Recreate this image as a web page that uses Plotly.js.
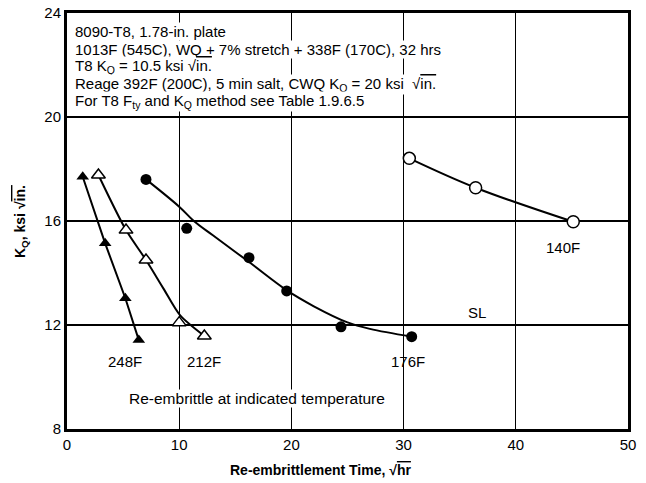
<!DOCTYPE html>
<html>
<head>
<meta charset="utf-8">
<script src="https://cdn.plot.ly/plotly-3.0.1.min.js"></script>
<style>html,body{margin:0;padding:0;background:#fff;}</style>
</head>
<body>
<div id="chart" style="width:646px;height:483px;"></div>
<script>
// Re-embrittlement data (x = sqrt(hr), y = KQ ksi sqrt(in.))
const x248 = [1.4, 3.4, 5.2, 6.4];
const y248 = [17.7, 15.14, 13.03, 11.42];

const x212 = [2.8, 5.26, 7.04, 10.0, 12.24];
const y212 = [17.77, 15.65, 14.5, 12.09, 11.58];
// fitted curve for 212F as drawn in the reference
const x212fit = [2.8, 5.26, 7.04, 8.6, 10.07, 12.24];
const y212fit = [17.77, 15.65, 14.5, 13.4, 12.38, 11.58];

const x176 = [7.04, 10.67, 16.22, 19.58, 24.42, 30.72];
const y176 = [17.6, 15.72, 14.59, 13.31, 11.93, 11.55];
// fitted curve for 176F as drawn in the reference
const x176fit = [7.04, 10.0, 11.3, 13.0, 16.2, 19.6, 22.0, 25.0, 27.0, 30.72];
const y176fit = [17.6, 16.55, 16.0, 15.45, 14.43, 13.33, 12.72, 12.1, 11.85, 11.55];

const x140 = [30.51, 36.42, 45.12];
const y140 = [18.41, 17.28, 15.97];

const xTicks = [0, 10, 20, 30, 40, 50];
const yTicks = [8, 12, 16, 20, 24];

const infoLines = [
  "8090-T8, 1.78-in. plate",
  "1013F (545C), WQ + 7% stretch + 338F (170C), 32 hrs",
  "T8 K<sub>Q</sub> = 10.5 ksi √<span style='text-decoration:overline'>in.</span>",
  "Reage 392F (200C), 5 min salt, CWQ K<sub>Q</sub> = 20 ksi  √<span style='text-decoration:overline'>in.</span>",
  "For T8 F<sub>ty</sub> and K<sub>Q</sub> method see Table 1.9.6.5"
];
const infoY = [23.28, 22.6, 21.93, 21.25, 20.58];

const curveLabels = ["248F", "212F", "176F", "140F", "SL"];
const labelX = [5.17, 12.2, 30.4, 44.2, 36.5];
const labelY = [10.59, 10.59, 10.59, 15.0, 12.5];

const FONT = "Liberation Sans, Arial, sans-serif";
const line = {color: "#000", width: 2};

const traces = [
  {x: x248, y: y248, mode: "lines+markers", line: line,
   marker: {symbol: "triangle-up", size: 11, color: "#000"}},
  {x: x212fit, y: y212fit, mode: "lines", line: Object.assign({shape: "spline", smoothing: 0.8}, line)},
  {x: x212, y: y212, mode: "markers",
   marker: {symbol: "triangle-up", size: 12, color: "#fff", line: {color: "#000", width: 1.5}}},
  {x: x176fit, y: y176fit, mode: "lines", line: Object.assign({shape: "spline"}, line)},
  {x: x176, y: y176, mode: "markers", marker: {symbol: "circle", size: 11, color: "#000"}},
  {x: x140, y: y140, mode: "lines+markers", line: Object.assign({shape: "spline"}, line),
   marker: {symbol: "circle", size: 12, color: "#fff", line: {color: "#000", width: 1.5}}}
];

const annotations = [];
infoLines.forEach((t, i) => {
  annotations.push({x: 0.6, y: infoY[i], xref: "x", yref: "y", text: t, showarrow: false,
    xanchor: "left", yanchor: "middle", bgcolor: "#fff", borderpad: 0,
    font: {family: FONT, size: 15, color: "#000"}});
});
curveLabels.forEach((t, i) => {
  annotations.push({x: labelX[i], y: labelY[i], xref: "x", yref: "y", text: t, showarrow: false,
    xanchor: "center", yanchor: "middle", font: {family: FONT, size: 15, color: "#000"}});
});
annotations.push({x: 16.9, y: 9.19, xref: "x", yref: "y", text: "Re-embrittle at indicated temperature",
  showarrow: false, xanchor: "center", yanchor: "middle", bgcolor: "#fff", borderpad: 0,
  font: {family: FONT, size: 15.5, color: "#000"}});
annotations.push({x: (320 - 67) / 561, y: -(470 - 429) / 416, xref: "paper", yref: "paper",
  text: "<b>Re-embrittlement Time, √<span style='text-decoration:overline'>hr</span></b>",
  showarrow: false, xanchor: "center", yanchor: "middle",
  font: {family: FONT, size: 14, color: "#000"}});
annotations.push({x: -(67 - 21) / 561, y: (429 - 222) / 416, xref: "paper", yref: "paper",
  text: "<b>K<sub>Q</sub>, ksi √<span style='text-decoration:overline'>in.</span></b>",
  textangle: -90, showarrow: false, xanchor: "center", yanchor: "middle",
  font: {family: FONT, size: 14, color: "#000"}});

const layout = {
  width: 646, height: 483,
  margin: {l: 67, r: 18, t: 13, b: 54},
  paper_bgcolor: "#fff", plot_bgcolor: "#fff",
  showlegend: false,
  font: {family: FONT, size: 15, color: "#000"},
  xaxis: {range: [0, 50], tickvals: xTicks, ticktext: xTicks.map(String), showgrid: true,
    gridcolor: "#000", gridwidth: 1.2, zeroline: false, showline: true, linecolor: "#000",
    linewidth: 3, mirror: true, ticks: "", ticklen: 0, fixedrange: true,
    tickfont: {family: FONT, size: 15, color: "#000"}},
  yaxis: {range: [8, 24], tickvals: yTicks, ticktext: yTicks.map(String), showgrid: true,
    gridcolor: "#000", gridwidth: 1.2, zeroline: false, showline: true, linecolor: "#000",
    linewidth: 3, mirror: true, ticks: "", ticklen: 0, fixedrange: true,
    tickfont: {family: FONT, size: 15, color: "#000"}},
  annotations: annotations
};

Plotly.newPlot("chart", traces, layout, {staticPlot: true, displayModeBar: false});
</script>
</body>
</html>
